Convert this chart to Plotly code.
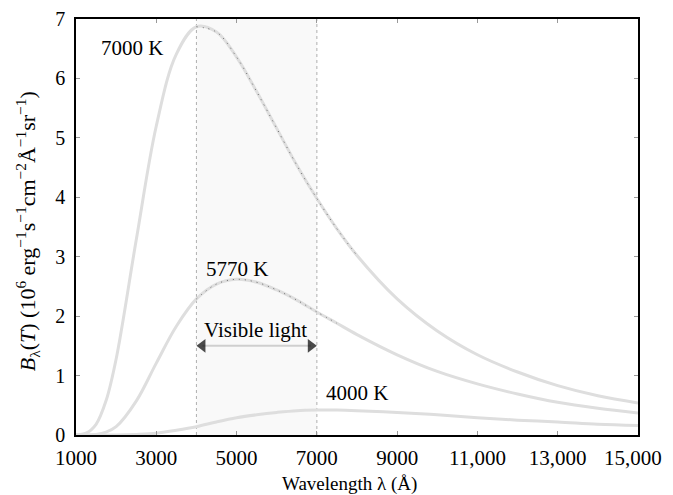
import plotly.graph_objects as go

# Wavelength grid (Angstrom) and B_lambda(T) (10^6 cgs units)
wavelength = [1000, 1250, 1500, 1750, 2000, 2500, 3000, 3500, 4000, 4500, 5000, 5500,
              6000, 6500, 7000, 7500, 8000, 9000, 10000, 11000, 12000, 13000, 14000, 15000]
b_7000 = [0.00, 0.03, 0.18, 0.58, 1.28, 3.28, 5.20, 6.41, 6.87, 6.78, 6.36, 5.78,
          5.16, 4.54, 3.98, 3.47, 3.02, 2.29, 1.75, 1.35, 1.06, 0.83, 0.66, 0.54]
b_5770 = [0.00, 0.00, 0.01, 0.05, 0.14, 0.57, 1.21, 1.83, 2.29, 2.54, 2.62, 2.57,
          2.44, 2.27, 2.07, 1.88, 1.69, 1.35, 1.07, 0.86, 0.69, 0.55, 0.45, 0.37]
b_4000 = [0.00, 0.00, 0.00, 0.00, 0.00, 0.01, 0.03, 0.08, 0.14, 0.22, 0.29, 0.34,
          0.38, 0.41, 0.42, 0.42, 0.41, 0.38, 0.34, 0.29, 0.25, 0.22, 0.18, 0.16]

curve_labels = ["7000 K", "5770 K", "4000 K"]
label_x = [2400, 5000, 7990]
label_y = [6.52, 2.80, 0.70]

visible_band = [4000, 7000]
visible_label = "Visible light"
visible_label_pos = [5480, 1.77]
arrow_y = 1.50

x_tickvals = [1000, 3000, 5000, 7000, 9000, 11000, 13000, 15000]
x_ticktext = ["1000", "3000", "5000", "7000", "9000", "11,000", "13,000",
              "15,000&nbsp;&nbsp;"]
y_tickvals = [0, 1, 2, 3, 4, 5, 6, 7]

FONT = "Liberation Serif"
FS = 21
HEAD_OFF = 150  # arrowhead marker centre offset from the band edge (Angstrom)

fig = go.Figure()

# visible band shading and its dotted edges
fig.add_shape(type="rect", xref="x", yref="y", x0=visible_band[0], x1=visible_band[1],
              y0=0, y1=7, fillcolor="#f9f9f9", line=dict(width=0), layer="below")
for xv in visible_band:
    fig.add_shape(type="line", xref="x", yref="y", x0=xv, x1=xv, y0=0, y1=7,
                  line=dict(color="#b0b0b0", width=1, dash="dot"), layer="below")

for ys in [b_7000, b_5770, b_4000]:
    fig.add_trace(go.Scatter(x=wavelength, y=ys, mode="lines", line_shape="spline",
                             line=dict(color="#dedede", width=3), showlegend=False,
                             hoverinfo="skip"))

# darker dotted portions (as in the printed figure)
for ys, lo, hi in [(b_7000, 4000, 8000), (b_5770, 4000, 7500)]:
    xs = [w for w in wavelength if lo <= w <= hi]
    yy = [v for w, v in zip(wavelength, ys) if lo <= w <= hi]
    fig.add_trace(go.Scatter(x=xs, y=yy, mode="lines", line_shape="spline",
                             line=dict(color="#666666", width=1, dash="1px,5px"),
                             showlegend=False, hoverinfo="skip"))

# curve labels
for t, xv, yv in zip(curve_labels, label_x, label_y):
    fig.add_annotation(x=xv, y=yv, text=t, showarrow=False,
                       font=dict(family=FONT, size=FS, color="black"))

# visible light double arrow
fig.add_trace(go.Scatter(x=[visible_band[0] + HEAD_OFF, visible_band[1] - HEAD_OFF],
                         y=[arrow_y, arrow_y], mode="lines",
                         line=dict(color="#cfcfcf", width=2),
                         showlegend=False, hoverinfo="skip"))
fig.add_trace(go.Scatter(x=[visible_band[0] + HEAD_OFF, visible_band[1] - HEAD_OFF],
                         y=[arrow_y, arrow_y], mode="markers",
                         marker=dict(symbol=["triangle-left", "triangle-right"], size=[12, 12],
                                     color="black", line=dict(width=0)),
                         showlegend=False, hoverinfo="skip"))
fig.add_annotation(x=visible_label_pos[0], y=visible_label_pos[1], text=visible_label,
                   showarrow=False, font=dict(family=FONT, size=FS, color="black"))

# axis titles
fig.add_annotation(xref="paper", yref="paper", x=0.486, y=-0.118, text="Wavelength λ (Å)",
                   showarrow=False, yanchor="middle",
                   font=dict(family=FONT, size=19, color="black"))
fig.add_annotation(xref="paper", yref="paper", x=-0.087, y=0.49, textangle=-90,
                   text="<i>B</i><sub>λ</sub>(<i>T</i>) (10<sup>6</sup> erg<sup>−1</sup>s<sup>−1</sup>cm<sup>−2</sup>Å<sup>−1</sup>sr<sup>−1</sup>)",
                   showarrow=False, xanchor="center", yanchor="middle",
                   font=dict(family=FONT, size=22, color="black"))

fig.update_xaxes(range=[1000, 15000], tickvals=x_tickvals, ticktext=x_ticktext,
                 showgrid=False, zeroline=False, showline=True, linecolor="black",
                 linewidth=1.5, mirror="ticks", ticks="inside", ticklen=4,
                 tickcolor="#999999", ticklabelstandoff=3, ticklabeloverflow="allow",
                 automargin=False,
                 tickfont=dict(family=FONT, size=FS, color="black"))
fig.update_yaxes(range=[0, 7], tickvals=y_tickvals, showgrid=False, zeroline=False,
                 showline=True, linecolor="black", linewidth=1.5, mirror="ticks",
                 ticks="inside", ticklen=4, tickcolor="#999999", ticklabelstandoff=5,
                 automargin=False,
                 tickfont=dict(family=FONT, size=20, color="black"))

fig.update_layout(width=673, height=495, margin=dict(l=76, r=35, t=19, b=60, autoexpand=False),
                  plot_bgcolor="white", paper_bgcolor="white", showlegend=False)

fig.write_html("out.html", config={"displayModeBar": False},
               post_script="document.body.style.margin='0';document.body.style.padding='0';")
